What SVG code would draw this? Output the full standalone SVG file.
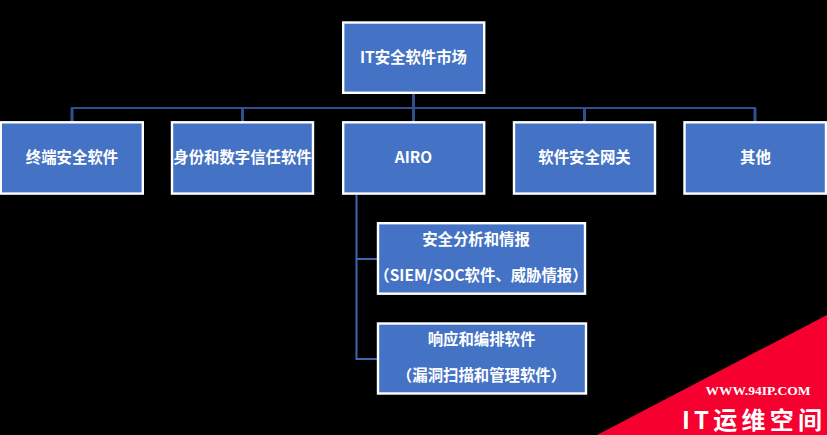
<svg xmlns="http://www.w3.org/2000/svg" width="827" height="435" viewBox="0 0 827 435">
<style>
.b{fill:#4472c4;stroke:#fff;stroke-width:2.4}
.t{fill:#fff;font-family:"Noto Sans CJK SC","Noto Sans",sans-serif;font-weight:700;font-size:15.4px;text-anchor:middle}
.c{fill:none;stroke:#2f528f;stroke-width:2}
.s{fill:none;stroke:#2f528f;stroke-width:3}
.l{fill:none;stroke:#3f66b0;stroke-width:2}
</style>
<rect width="827" height="435" fill="#000"/>
<g id="connectors">
<path class="c" d="M72 122V108H755V122"/>
<path class="s" d="M413.500 94V122M242.500 108V122M584.500 108V122M755 108V122M72 108V122"/>
<path class="l" d="M356.500 195V359H377M356.500 259H377"/>
</g>
<g id="root"><rect class="b" x="343.200" y="22.500" width="141" height="70.300"/><text class="t" x="413.500" y="63">IT安全软件市场</text></g>
<g id="n1"><rect class="b" x="0.800" y="122.300" width="142" height="71.300"/><text class="t" x="72" y="163">终端安全软件</text></g>
<g id="n2"><rect class="b" x="172" y="122.300" width="141" height="71.300"/><text class="t" x="242.500" y="163">身份和数字信任软件</text></g>
<g id="n3"><rect class="b" x="343.200" y="122.300" width="141" height="71.300"/><text class="t" x="413.500" y="163">AIRO</text></g>
<g id="n4"><rect class="b" x="514" y="122.300" width="141" height="71.300"/><text class="t" x="584.500" y="163">软件安全网关</text></g>
<g id="n5"><rect class="b" x="684.500" y="122.300" width="141.500" height="71.300"/><text class="t" x="755.500" y="163">其他</text></g>
<g id="n6"><rect class="b" x="378" y="223.200" width="207" height="70.500"/><text class="t" x="476" y="245">安全分析和情报</text><text class="t" x="481" y="281">（SIEM/SOC软件、威胁情报）</text></g>
<g id="n7"><rect class="b" x="378" y="323.500" width="208" height="70"/><text class="t" x="481.500" y="345">响应和编排软件</text><text class="t" x="481.500" y="381">（漏洞扫描和管理软件）</text></g>
<g id="watermark">
<polygon points="597,435 827,315 827,435" fill="#f5002f"/>
<text x="758" y="395" fill="#fff" font-family="Liberation Serif,serif" font-weight="700" font-size="13.500px" text-anchor="middle">WWW.94IP.COM</text>
<text x="682" y="429" fill="#fff" font-family="Noto Sans CJK SC,sans-serif" font-weight="700" font-size="24px" letter-spacing="4.200">IT运维空间</text>
</g>
</svg>
